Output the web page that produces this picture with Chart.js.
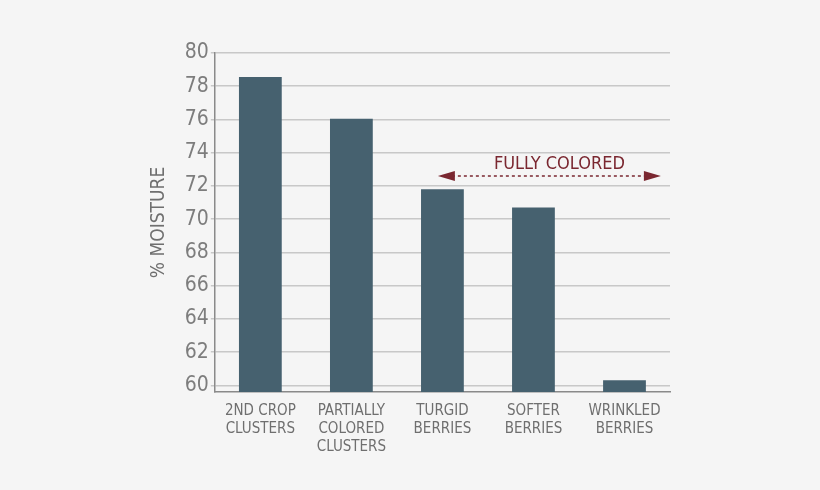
<!DOCTYPE html>
<html lang="en">
<head>
<meta charset="UTF-8">
<title>Moisture chart</title>
<script src="https://cdn.jsdelivr.net/npm/chart.js"></script>
<style>
  html, body { margin: 0; padding: 0; background: #f5f5f5; }
  #wrap { position: relative; width: 820px; height: 490px; }
</style>
</head>
<body>
<div id="wrap"><canvas id="chart"></canvas></div>
<script>
const categories = [['2ND CROP', 'CLUSTERS'], ['PARTIALLY', 'COLORED', 'CLUSTERS'], ['TURGID', 'BERRIES'], ['SOFTER', 'BERRIES'], ['WRINKLED', 'BERRIES']];
const moisture = [78.55, 76.05, 71.8, 70.7, 60.3];
const tickValues = [60, 62, 64, 66, 68, 70, 72, 74, 76, 78, 80];

const FONT = "'Liberation Sans Narrow', 'DejaVu Sans Condensed', Roboto, sans-serif";
const barColor = '#46616f';
const noteColor = '#7a2730';

// dashed double arrow over the fully coloured stages
const fullyColored = {
    id: 'fullyColored',
    afterDatasetsDraw(chart) {
        const { ctx, scales: { x, y } } = chart;
        const x0 = x.getPixelForValue(1.95), x1 = x.getPixelForValue(4.4);
        const yy = y.getPixelForValue(72.6);
        ctx.save();
        ctx.strokeStyle = noteColor;
        ctx.fillStyle = noteColor;
        ctx.lineWidth = 1.5;
        ctx.setLineDash([3, 3]);
        ctx.beginPath();
        ctx.moveTo(x0 + 14, yy);
        ctx.lineTo(x1 - 14, yy);
        ctx.stroke();
        ctx.setLineDash([]);
        ctx.beginPath();
        ctx.moveTo(x0, yy); ctx.lineTo(x0 + 17, yy - 5); ctx.lineTo(x0 + 17, yy + 5); ctx.closePath();
        ctx.moveTo(x1, yy); ctx.lineTo(x1 - 17, yy - 5); ctx.lineTo(x1 - 17, yy + 5); ctx.closePath();
        ctx.fill();
        ctx.font = '18px ' + FONT;
        ctx.textAlign = 'center';
        ctx.textBaseline = 'alphabetic';
        ctx.fillText('FULLY COLORED', (x0 + x1) / 2 + 10, yy - 7);
        ctx.restore();
    }
};

new Chart(document.getElementById('chart'), {
    type: 'bar',
    data: {
        labels: categories,
        datasets: [{
            data: moisture,
            backgroundColor: barColor,
            borderWidth: 0,
            barPercentage: 0.47,
            categoryPercentage: 1
        }]
    },
    options: {
        responsive: true,
        maintainAspectRatio: false,
        animation: false,
        layout: { padding: { left: 136, right: 150, top: 53, bottom: 24 } },
        plugins: { legend: { display: false }, tooltip: { enabled: false } },
        scales: {
            x: {
                grid: { display: false, drawTicks: false },
                border: { color: '#8a8a8a', width: 1.5 },
                ticks: { color: '#6f6f6f', font: { family: FONT, size: 15 }, padding: 10, maxRotation: 0, autoSkip: false }
            },
            y: {
                min: 59.6,
                max: 80,
                afterBuildTicks(axis) { axis.ticks = tickValues.map(v => ({ value: v })); },
                grid: { color: '#c8c8c8', lineWidth: 1.5, drawTicks: true, tickLength: 4 },
                border: { color: '#8a8a8a', width: 1.5 },
                ticks: { color: '#7d7d7d', font: { family: FONT, size: 21 }, padding: 2 },
                title: { display: true, text: '% MOISTURE', color: '#6f6f6f', font: { family: FONT, size: 19 }, padding: 12 }
            }
        }
    },
    plugins: [fullyColored]
});
</script>
</body>
</html>
